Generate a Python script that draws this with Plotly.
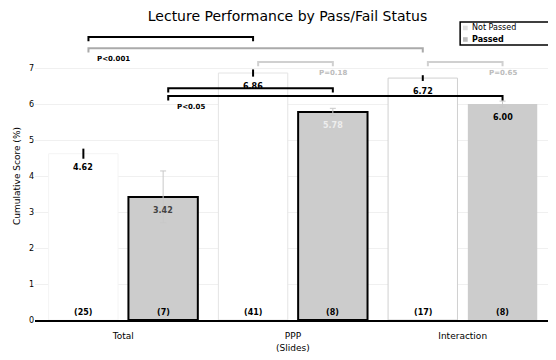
import plotly.graph_objects as go

# ---------------- data ----------------
categories = ["Total", "PPP<br>(Slides)", "Interaction"]
series_names = ["Not Passed", "Passed"]
not_passed = [4.62, 6.86, 6.72]
passed = [3.42, 5.78, 6.00]
not_passed_err = [0.14, 0.10, 0.08]
passed_err = [0.72, 0.10, 0.08]
not_passed_n = [25, 41, 17]
passed_n = [7, 8, 8]
y_ticks = [0, 1, 2, 3, 4, 5, 6, 7]

# comparisons: (category a, series a, category b, series b, label)
comparisons = [
    (0, 0, 1, 0, ""),
    (0, 0, 2, 0, "P<0.001"),
    (1, 0, 1, 1, "P=0.18"),
    (2, 0, 2, 1, "P=0.65"),
    (0, 1, 1, 1, ""),
    (0, 1, 2, 1, "P<0.05"),
]

# ---------------- styles ----------------
bracket_y = [7.86, 7.55, 7.17, 7.17, 6.44, 6.22]
bracket_col = ["#000000", "#aaaaaa", "#d0d0d0", "#d0d0d0", "#000000", "#000000"]
offset = [-0.235, 0.235]
FONT = "DejaVu Sans"
W, H = 548, 352  # page body has an 8px margin

fig = go.Figure()
fig.add_trace(go.Bar(
    x=categories, y=not_passed, name=series_names[0], showlegend=False,
    marker=dict(color="#ffffff", line=dict(color=["#f4f4f4", "#e4e4e4", "#d0d0d0"], width=1)),
    error_y=dict(type="data", array=not_passed_err, color="#000000", thickness=2, width=0),
))
fig.add_trace(go.Bar(
    x=categories, y=passed, name=series_names[1], showlegend=False,
    marker=dict(color="#cccccc", line=dict(color=["#000000", "#000000", "#cccccc"], width=[2, 2, 0])),
    error_y=dict(type="data", array=passed_err, color="#c8c8c8", thickness=1, width=3),
))

annotations = []
series_vals = [not_passed, passed]
series_ns = [not_passed_n, passed_n]
val_colors = [["#000000"] * 3, ["#444444", "#eeeeee", "#000000"]]
for s in range(2):
    for i in range(3):
        v = series_vals[s][i]
        annotations.append(dict(
            x=i + offset[s], y=v - 0.2, xref="x", yref="y",
            text="<b>%.2f</b>" % v, showarrow=False, yanchor="top",
            font=dict(size=8, color=val_colors[s][i], family=FONT)))
        annotations.append(dict(
            x=i + offset[s], y=0.04, xref="x", yref="y",
            text="<b>(%d)</b>" % series_ns[s][i], showarrow=False, yanchor="bottom",
            font=dict(size=8, color="#000000", family=FONT)))

shapes = []
for k, (ca, sa, cb, sb, lab) in enumerate(comparisons):
    xa = ca + offset[sa] + 0.03
    xb = cb + offset[sb]
    yb = bracket_y[k]
    col = bracket_col[k]
    shapes.append(dict(type="path", xref="x", yref="y",
                       path="M %f %f L %f %f L %f %f L %f %f" % (xa, yb - 0.12, xa, yb, xb, yb, xb, yb - 0.12),
                       line=dict(color=col, width=2)))
    if lab:
        if ca == cb:
            lx, anchor = xb, "center"
        else:
            lx, anchor = xa + 0.04, "left"
        annotations.append(dict(
            x=lx, y=yb - 0.13, xref="x", yref="y", text="<b>%s</b>" % lab,
            showarrow=False, xanchor=anchor, yanchor="top",
            font=dict(size=7, color="#000000" if col != "#d0d0d0" else "#bbbbbb", family=FONT)))

# ---- compact legend (box + swatches + real text) ----
leg_x0, leg_x1, leg_y0, leg_y1 = 0.816, 1.0, 0.955, 1.035
shapes.append(dict(type="rect", xref="paper", yref="paper", x0=leg_x0, x1=leg_x1 + 0.02,
                   y0=leg_y0, y1=leg_y1, line=dict(color="#000000", width=1.5), fillcolor="#ffffff",
                   layer="above"))
leg_rows = [1.014, 0.974]
leg_fill = ["#e0e0e0", "#bbbbbb"]
for r, nm in enumerate(series_names):
    shapes.append(dict(type="rect", xref="paper", yref="paper",
                       x0=0.8215, x1=0.8305, y0=leg_rows[r] - 0.008, y1=leg_rows[r] + 0.008,
                       line=dict(width=0), fillcolor=leg_fill[r], layer="above"))
    annotations.append(dict(x=0.834, y=leg_rows[r], xref="paper", yref="paper",
                            text="<b>%s</b>" % nm if r == 1 else nm,
                            showarrow=False, xanchor="left", yanchor="middle",
                            font=dict(size=8, color="#000000", family=FONT)))

fig.update_layout(
    width=W, height=H,
    margin=dict(l=27, r=0, t=24, b=40),
    paper_bgcolor="#ffffff", plot_bgcolor="#ffffff",
    barmode="group", bargap=0.06, bargroupgap=0.13,
    showlegend=False,
    title=dict(text="Lecture Performance by Pass/Fail Status", x=0.51, y=0.977,
               xref="container", yref="container", xanchor="center", yanchor="middle",
               font=dict(size=14, color="#000000", family=FONT)),
    font=dict(family=FONT, size=8, color="#000000"),
    xaxis=dict(range=[-0.52, 2.55], showgrid=False, showline=True, linecolor="#000000",
               linewidth=2, ticks="", automargin=False, ticklabelstandoff=6,
               tickfont=dict(size=9, family=FONT)),
    yaxis=dict(range=[0, 8], tickvals=y_ticks, showgrid=True, gridcolor="#f0f0f0",
               zeroline=False, showline=False, ticks="", automargin=False,
               tickfont=dict(size=8, family=FONT),
               title=dict(text="Cumulative Score (%)", font=dict(size=9, family=FONT), standoff=6)),
    annotations=annotations,
    shapes=shapes,
)

fig.write_html("out.html")
